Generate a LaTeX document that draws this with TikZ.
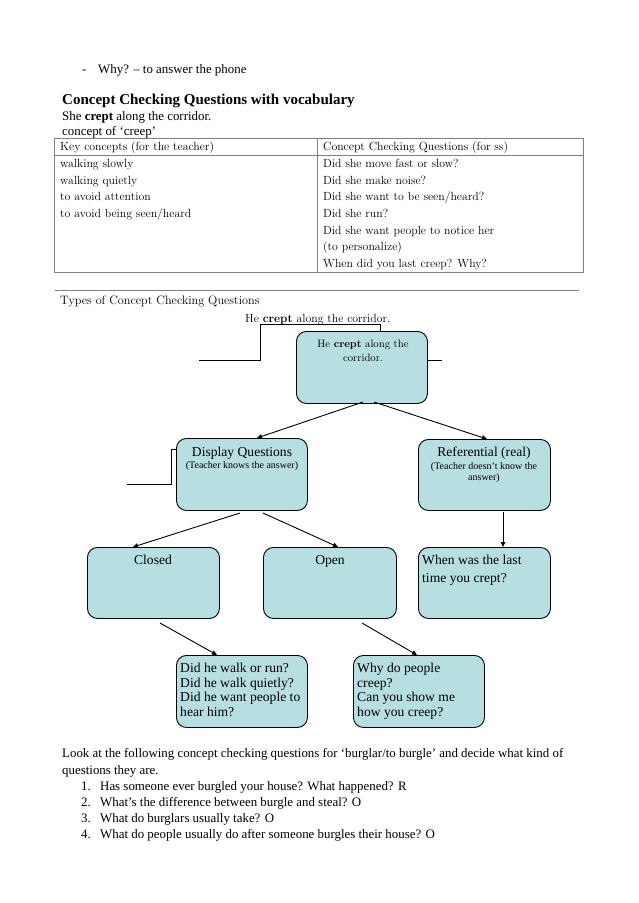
\documentclass[tikz,border=0pt]{standalone}
\usepackage{fontspec}
\newfontfamily\tnr{Liberation Serif}
\usetikzlibrary{arrows.meta,calc}
\definecolor{boxfill}{RGB}{183,223,226}
\definecolor{tblgray}{RGB}{128,128,128}
\begin{document}
\begin{tikzpicture}[x=1pt,y=-1pt,
  txt/.style={inner sep=0pt,anchor=base west},
  body/.style={txt,font=\tnr\fontsize{12.9}{15}\selectfont},
  head/.style={txt,font=\tnr\bfseries\fontsize{15}{17}\selectfont},
  tbl/.style={txt,font=\fontsize{11.8}{14}\selectfont},
  btxt/.style={inner sep=0pt,anchor=base,font=\tnr\fontsize{13.6}{15}\selectfont},
  bleft/.style={inner sep=0pt,anchor=base west,font=\tnr\fontsize{13.6}{15}\selectfont},
  bsmall/.style={inner sep=0pt,anchor=base,font=\tnr\fontsize{10}{11}\selectfont},
  cbox/.style={draw=black,line width=0.9pt,fill=boxfill,rounded corners=10pt,
    anchor=north west,inner sep=0pt,minimum width=#1,minimum height=72pt},
  cbox/.default=131pt,
  conn/.style={line width=0.9pt},
  arr/.style={conn,-{Triangle[length=5pt,width=4.5pt]}},
  ]
\useasboundingbox (0,0) rectangle (638,903);

% top text
\node[body] (dash) at (82,73) {-};
\node[body] (why) at (98,73) {Why? – to answer the phone};
\node[head] (h1) at (62,104) {Concept Checking Questions with vocabulary};
\node[body] (she) at (62,120) {She \textbf{crept} along the corridor.};
\node[body] (cof) at (62,135) {concept of ‘creep’};

% table
\draw[tblgray,line width=0.8pt] (54,138) rectangle (583,272);
\draw[tblgray,line width=0.8pt] (54,155) -- (583,155);
\draw[tblgray,line width=0.8pt] (317,138) -- (317,272);
\node[tbl] (k0) at (60,150) {Key concepts (for the teacher)};
\node[tbl] (q0) at (323,150) {Concept Checking Questions (for ss)};
\node[tbl] (k1) at (60,167) {walking slowly};
\node[tbl] (k2) at (60,184) {walking quietly};
\node[tbl] (k3) at (60,200.5) {to avoid attention};
\node[tbl] (k4) at (60,217) {to avoid being seen/heard};
\node[tbl] (q1) at (323,167) {Did she move fast or slow?};
\node[tbl] (q2) at (323,184) {Did she make noise?};
\node[tbl] (q3) at (323,200.5) {Did she want to be seen/heard?};
\node[tbl] (q4) at (323,217) {Did she run?};
\node[tbl] (q5) at (323,234) {Did she want people to notice her};
\node[tbl] (q6) at (323,250.5) {(to personalize)};
\node[tbl] (q7) at (323,267) {When did you last creep? Why?};

% rule
\draw[tblgray,line width=0.6pt] (55,290) -- (579,290);
\node[tbl,font=\fontsize{12.2}{14}\selectfont] (types) at (60,304) {Types of Concept Checking Questions};
\node[tbl] (title) at (245,322) {He \textbf{crept} along the corridor.};

% boxes
\node[cbox] (root) at (296,331) {};
\node[inner sep=0pt,anchor=base,font=\fontsize{10.7}{12}\selectfont] (rt1) at (363,347) {He \textbf{crept} along the};
\node[inner sep=0pt,anchor=base,font=\fontsize{10.7}{12}\selectfont] (rt2) at (363,361.5) {corridor.};

\node[cbox] (disp) at (176,438) {};
\node[btxt] (dt1) at (242,456.5) {Display Questions};
\node[bsmall] (dt2) at (242,468.5) {(Teacher knows the answer)};

\node[cbox=132pt,minimum height=71pt] (ref) at (418,439) {};
\node[btxt] (ft1) at (484,456) {Referential (real)};
\node[bsmall] (ft2) at (484,469.5) {(Teacher doesn’t know the};
\node[bsmall] (ft3) at (484,480.5) {answer)};

\node[cbox=132pt,minimum height=71pt] (closed) at (87,547) {};
\node[btxt] (ct) at (153,564) {Closed};
\node[cbox=133pt,minimum height=71pt] (open) at (263,547) {};
\node[btxt] (ot) at (330,564) {Open};
\node[cbox=132pt,minimum height=71pt] (when) at (418,547) {};
\node[bleft] (wt1) at (422,564) {When was the last};
\node[bleft] (wt2) at (422,582) {time you crept?};

\node[cbox] (did) at (176,655) {};
\node[bleft] (d1) at (180,672.5) {Did he walk or run?};
\node[bleft] (d2) at (180,687) {Did he walk quietly?};
\node[bleft] (d3) at (180,701.5) {Did he want people to};
\node[bleft] (d4) at (180,716) {hear him?};

\node[cbox] (whyb) at (353,655) {};
\node[bleft] (w1) at (357,672.5) {Why do people};
\node[bleft] (w2) at (357,687) {creep?};
\node[bleft] (w3) at (357,701.5) {Can you show me};
\node[bleft] (w4) at (357,716) {how you creep?};

% loose connectors
\coordinate (e1) at (199,360);
\coordinate (e2) at (442,360);
\coordinate (e3) at (127,484);
\draw[conn] (e1) -- (260,360) -- (260,324) -- (380,324) -- (root.north west -| 380,0);
\draw[conn] (root.east |- 0,360) -- (e2);
\draw[conn] (e3) -- (171,484) -- (171,449) -- (disp.west |- 0,449);

% arrows
\coordinate (s1) at (363,402);
\coordinate (s2) at (374,402);
\coordinate (s3) at (240,513);
\coordinate (s4) at (263,513);
\coordinate (s5) at (160,623);
\coordinate (s6) at (362,623);
\coordinate (s7) at (503,512);
\draw[arr] (s1) -- (disp.north west -| 257,0);
\draw[arr] (s2) -- (ref.north west -| 487,0);
\draw[arr] (s3) -- (closed.north west -| 133,0);
\draw[arr] (s4) -- (open.north west -| 338,0);
\draw[arr] (s5) -- (did.north west -| 217,0);
\draw[arr] (s6) -- (whyb.north west -| 417,0);
\draw[arr] (s7) -- (when.north west -| 503,0);

% bottom text
\node[body] (look1) at (62,757) {Look at the following concept checking questions for ‘burglar/to burgle’ and decide what kind of};
\node[body] (look2) at (62,774) {questions they are.};
\node[body] (n1) at (81,790) {1.};
\node[body] (n2) at (81,806) {2.};
\node[body] (n3) at (81,822) {3.};
\node[body] (n4) at (81,838) {4.};
\node[body] (i1) at (100,790) {Has someone ever burgled your house? What happened? R};
\node[body] (i2) at (100,806) {What’s the difference between burgle and steal? O};
\node[body] (i3) at (100,822) {What do burglars usually take? O};
\node[body] (i4) at (100,838) {What do people usually do after someone burgles their house? O};
\end{tikzpicture}
\end{document}
